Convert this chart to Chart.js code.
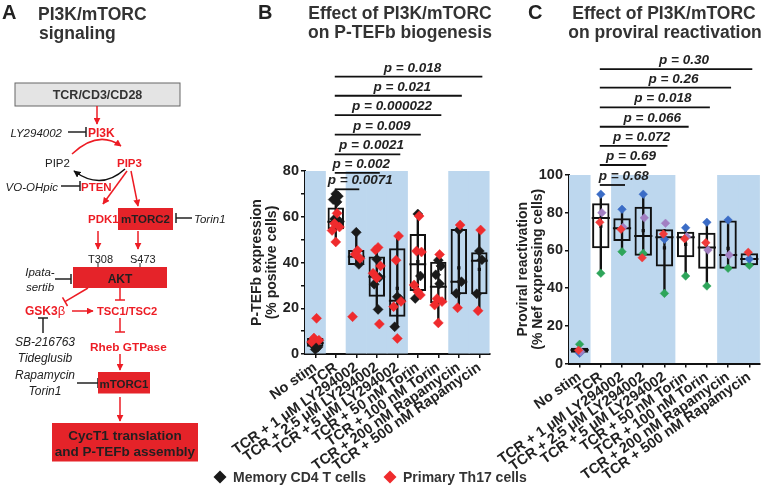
<!DOCTYPE html>
<html><head><meta charset="utf-8">
<script src="https://cdn.jsdelivr.net/npm/chart.js@4.4.1/dist/chart.umd.min.js"></script>
<style>
html,body{margin:0;padding:0;background:#fff;}
#wrap{position:relative;width:771px;height:486px;overflow:hidden;font-family:"Liberation Sans",Arial,sans-serif;}
#cB{position:absolute;left:200px;top:0;}
#cC{position:absolute;left:470px;top:0;}
#ov{position:absolute;left:0;top:0;}
</style></head>
<body><div id="wrap">
<canvas id="cB" width="300" height="486"></canvas>
<canvas id="cC" width="301" height="486"></canvas>
<svg id="ov" width="771" height="486" xmlns="http://www.w3.org/2000/svg" font-family="Liberation Sans, Arial, sans-serif">
<defs>
<marker id="ar" viewBox="0 0 10 10" refX="9" refY="5" markerWidth="7" markerHeight="7" markerUnits="userSpaceOnUse" orient="auto"><path d="M0,0 L10,5 L0,10 z" fill="#ed1c24"/></marker>
<marker id="ak" viewBox="0 0 10 10" refX="9" refY="5" markerWidth="7" markerHeight="7" markerUnits="userSpaceOnUse" orient="auto"><path d="M0,0 L10,5 L0,10 z" fill="#111"/></marker>
</defs>
<!-- Panel A -->
<text x="2" y="19" font-size="20" font-weight="bold" fill="#222">A</text>
<text x="38" y="19.5" font-size="17.5" font-weight="bold" fill="#333">PI3K/mTORC</text>
<text x="39" y="38.5" font-size="17.5" font-weight="bold" fill="#333">signaling</text>
<rect x="15" y="83" width="165" height="23" fill="#e4e4e4" stroke="#666" stroke-width="1"/>
<text x="97.5" y="99" font-size="12.5" font-weight="bold" fill="#333" text-anchor="middle">TCR/CD3/CD28</text>
<line x1="97" y1="106" x2="97" y2="124" stroke="#ed1c24" stroke-width="1.5" marker-end="url(#ar)"/>
<text x="62" y="137" font-size="11.5" font-style="italic" fill="#222" text-anchor="end">LY294002</text>
<line x1="68" y1="132" x2="86" y2="132" stroke="#222" stroke-width="1.5"/>
<line x1="86" y1="127" x2="86" y2="137" stroke="#222" stroke-width="1.5"/>
<text x="88" y="137" font-size="12" font-weight="bold" fill="#ed1c24">PI3K</text>
<path d="M72,154 Q98,129.5 121,146" fill="none" stroke="#ed1c24" stroke-width="1.5" marker-end="url(#ar)"/>
<text x="45" y="167" font-size="11.5" fill="#222">PIP2</text>
<text x="117" y="167" font-size="11.5" font-weight="bold" fill="#ed1c24">PIP3</text>
<path d="M125,169 Q101,191 74,171" fill="none" stroke="#111" stroke-width="1.5" marker-end="url(#ak)"/>
<text x="58" y="191" font-size="11.5" font-style="italic" fill="#222" text-anchor="end">VO-OHpic</text>
<line x1="61" y1="186" x2="80" y2="186" stroke="#222" stroke-width="1.5"/>
<line x1="80" y1="181" x2="80" y2="191" stroke="#222" stroke-width="1.5"/>
<text x="81" y="191" font-size="11.5" font-weight="bold" fill="#ed1c24">PTEN</text>
<line x1="127" y1="171" x2="103" y2="204" stroke="#ed1c24" stroke-width="1.5" marker-end="url(#ar)"/>
<line x1="131" y1="171" x2="138" y2="206" stroke="#ed1c24" stroke-width="1.5" marker-end="url(#ar)"/>
<text x="88" y="223" font-size="11.5" font-weight="bold" fill="#ed1c24">PDK1</text>
<rect x="118" y="208" width="55" height="22" fill="#e52329"/>
<text x="145.5" y="223" font-size="11.5" font-weight="bold" fill="#231f20" text-anchor="middle">mTORC2</text>
<line x1="176" y1="213" x2="176" y2="223" stroke="#222" stroke-width="1.5"/>
<line x1="176" y1="218" x2="192" y2="218" stroke="#222" stroke-width="1.5"/>
<text x="194" y="223" font-size="11.5" font-style="italic" fill="#222">Torin1</text>
<line x1="98" y1="231" x2="98" y2="249" stroke="#ed1c24" stroke-width="1.5" marker-end="url(#ar)"/>
<line x1="138" y1="231" x2="138" y2="249" stroke="#ed1c24" stroke-width="1.5" marker-end="url(#ar)"/>
<text x="88" y="263" font-size="11" fill="#222">T308</text>
<text x="130" y="263" font-size="11" fill="#222">S473</text>
<line x1="98" y1="263" x2="98" y2="268" stroke="#222" stroke-width="1"/>
<line x1="140" y1="263" x2="140" y2="268" stroke="#222" stroke-width="1"/>
<rect x="73" y="267" width="94" height="21" fill="#e52329"/>
<text x="120" y="282.5" font-size="12" font-weight="bold" fill="#231f20" text-anchor="middle">AKT</text>
<text x="40" y="276" font-size="11.5" font-style="italic" fill="#222" text-anchor="middle">Ipata-</text>
<text x="40" y="291" font-size="11.5" font-style="italic" fill="#222" text-anchor="middle">sertib</text>
<line x1="55" y1="279" x2="71" y2="279" stroke="#222" stroke-width="1.5"/>
<line x1="71" y1="274" x2="71" y2="284" stroke="#222" stroke-width="1.5"/>
<line x1="88" y1="288" x2="65" y2="301.7" stroke="#ed1c24" stroke-width="1.5"/>
<line x1="62.5" y1="297.4" x2="67.5" y2="306" stroke="#ed1c24" stroke-width="1.5"/>
<line x1="120" y1="288" x2="120" y2="300" stroke="#ed1c24" stroke-width="1.5"/>
<line x1="115" y1="300" x2="125" y2="300" stroke="#ed1c24" stroke-width="1.5"/>
<text x="25" y="315" font-size="12" font-weight="bold" fill="#ed1c24">GSK3<tspan font-weight="normal" font-size="13">β</tspan></text>
<line x1="72" y1="311" x2="93" y2="311" stroke="#ed1c24" stroke-width="1.5" marker-end="url(#ar)"/>
<text x="97" y="315" font-size="11.2" font-weight="bold" fill="#ed1c24">TSC1/TSC2</text>
<line x1="120" y1="318" x2="120" y2="332" stroke="#ed1c24" stroke-width="1.5"/>
<line x1="115" y1="332" x2="125" y2="332" stroke="#ed1c24" stroke-width="1.5"/>
<text x="90" y="351" font-size="11.8" font-weight="bold" fill="#ed1c24">Rheb GTPase</text>
<line x1="120" y1="354" x2="120" y2="370" stroke="#ed1c24" stroke-width="1.5" marker-end="url(#ar)"/>
<line x1="38" y1="318" x2="48" y2="318" stroke="#222" stroke-width="1.5"/>
<line x1="43" y1="318" x2="43" y2="333" stroke="#222" stroke-width="1.5"/>
<text x="45" y="346" font-size="12" font-style="italic" fill="#222" text-anchor="middle">SB-216763</text>
<text x="45" y="362" font-size="12" font-style="italic" fill="#222" text-anchor="middle">Tideglusib</text>
<text x="45" y="379" font-size="12" font-style="italic" fill="#222" text-anchor="middle">Rapamycin</text>
<text x="45" y="395" font-size="12" font-style="italic" fill="#222" text-anchor="middle">Torin1</text>
<line x1="77" y1="383" x2="98" y2="383" stroke="#222" stroke-width="1.5"/>
<line x1="98" y1="378" x2="98" y2="388" stroke="#222" stroke-width="1.5"/>
<rect x="98" y="372" width="52" height="21.5" fill="#e52329"/>
<text x="124" y="387.5" font-size="11.5" font-weight="bold" fill="#231f20" text-anchor="middle">mTORC1</text>
<line x1="120" y1="397" x2="120" y2="421" stroke="#ed1c24" stroke-width="1.5" marker-end="url(#ar)"/>
<rect x="52" y="423" width="146" height="38.5" fill="#e52329"/>
<text x="125" y="440" font-size="13.5" font-weight="bold" fill="#231f20" text-anchor="middle">CycT1 translation</text>
<text x="125" y="456" font-size="13.5" font-weight="bold" fill="#231f20" text-anchor="middle">and P-TEFb assembly</text>
<!-- Panel B / C titles -->
<text x="258" y="18.5" font-size="20" font-weight="bold" fill="#222">B</text>
<text x="400" y="18.5" font-size="17.5" font-weight="bold" fill="#333" text-anchor="middle">Effect of PI3K/mTORC</text>
<text x="400" y="37.5" font-size="17.5" font-weight="bold" fill="#333" text-anchor="middle">on P-TEFb biogenesis</text>
<text x="528" y="18.5" font-size="20" font-weight="bold" fill="#222">C</text>
<text x="664" y="18.5" font-size="17.5" font-weight="bold" fill="#333" text-anchor="middle">Effect of PI3K/mTORC</text>
<text x="665" y="37.5" font-size="17.5" font-weight="bold" fill="#333" text-anchor="middle">on proviral reactivation</text>
<!-- Legend -->
<path d="M220,470.5 L226.5,477 L220,483.5 L213.5,477 z" fill="#1a1a1a"/>
<text x="233" y="482" font-size="14" font-weight="bold" fill="#333">Memory CD4 T cells</text>
<path d="M390,470.5 L396.5,477 L390,483.5 L383.5,477 z" fill="#ef2b2d"/>
<text x="403" y="482" font-size="14" font-weight="bold" fill="#333">Primary Th17 cells</text>
</svg>
</div>
<script>
// ---------- data ----------
const categories = ["No stim","TCR","TCR + 1 μM LY294002","TCR + 2.5 μM LY294002","TCR + 5 μM LY294002","TCR + 50 nM Torin","TCR + 100 nM Torin","TCR + 200 nM Rapamycin","TCR + 500 nM Rapamycin"];
const shadedGroups = [true,false,true,true,true,false,false,true,true];

// Panel B: P-TEFb expression (% positive cells)
const bMemoryCD4 = [[2.0,3.0,4.0],[70.0,69.0,67.5,66.5,59.0,58.0],[53.2,39.2],[41.4,33.5,30.5,19.5],[25.0,24.0,11.9],[61.2,34.1,24.3],[41.0,38.5,34.6,30.7],[54.2,31.6,26.5],[45.0,41.2,26.3]];
const bTh17 = [[15.6,7.0,6.0,5.3],[61.5,57.0,55.5,54.0,49.0],[45.3,43.6,41.8,16.3],[46.6,45.5,38.5,35.3,33.2,13.1],[51.6,41.0,23.0,20.7,6.8],[60.3,45.0,44.6,30.2,27.2,25.8],[43.5,24.2,22.9,21.4,13.6],[56.4,20.2],[54.2,18.9]];
const bQ1 = [3.2,54.5,38.9,25.0,16.3,27.5,22.2,26.1,26.1];
const bMedian = [4.8,57.8,42.5,33.8,23.3,39.2,29.4,31.6,40.8];
const bQ3 = [7.0,64.0,45.5,42.6,46.2,52.5,40.3,54.6,44.5];
const bWhiskerLow = [3.2,49.0,38.9,19.5,11.9,24.3,14.1,20.2,18.9];
const bWhiskerHigh = [7.0,70.0,53.5,46.6,51.6,60.8,43.3,54.6,54.2];
const bMean = [null,null,null,null,28.7,40.4,30.2,37.7,37.0];
const bPValues = ["0.0071","0.002","0.0021","0.009","0.000022","0.021","0.018"];

// Panel C: proviral reactivation (% Nef expressing cells), one value per donor
const cDonorBlue = [5.4,89.8,81.8,89.8,65.9,72.0,74.9,76.1,55.4];
const cDonorPurple = [6.3,80.0,72.3,77.3,74.4,67.3,60.2,57.6,null];
const cDonorRed = [7.0,74.9,71.2,56.1,68.7,66.2,64.1,null,59.0];
const cDonorGreen = [10.2,47.9,59.3,58.4,37.2,46.4,41.1,50.5,52.1];
const cQ1 = [5.7,61.1,65.0,57.2,51.4,56.3,50.3,50.3,52.1];
const cMedian = [7.2,77.2,71.7,67.6,67.0,67.0,61.6,57.6,55.4];
const cQ3 = [8.4,85.0,77.0,83.2,71.2,69.9,69.4,75.8,58.5];
const cWhiskerLow = [5.7,47.9,59.3,57.2,37.2,46.4,41.1,50.3,52.1];
const cWhiskerHigh = [8.4,89.8,81.8,89.8,71.2,72.0,74.9,75.8,58.5];
const cMean = [null,72.9,null,70.5,61.4,63.2,60.1,61.1,null];
const cPValues = ["0.68","0.69","0.072","0.066","0.018","0.26","0.30"];

// ---------- rendering ----------
Chart.defaults.font.family = '"Liberation Sans", Arial, sans-serif';
const FONT = '"Liberation Sans", Arial, sans-serif';
const jitterPattern = [0, 0.14, -0.14, 0.07, -0.07, 0.2, -0.2];

function groupedPoints(groups, shift) {
  const out = [];
  groups.forEach((vals, i) => vals.forEach((v, k) => out.push({x: i + jitterPattern[(k + shift) % jitterPattern.length] * 0.9, y: v})));
  return out;
}
function flatPoints(vals, dx) {
  const out = [];
  vals.forEach((v, i) => { if (v !== null) out.push({x: i + dx, y: v}); });
  return out;
}

const bracketPlugin = {
  id: 'brackets',
  afterDatasetsDraw(chart, args, o) {
    if (!o || !o.pValues) return;
    const {ctx} = chart; const xs = chart.scales.x, ys = chart.scales.y;
    ctx.save();
    ctx.font = 'italic bold 13.5px ' + FONT;
    ctx.fillStyle = '#222'; ctx.strokeStyle = '#111'; ctx.lineWidth = 1.8;
    o.pValues.forEach((p, k) => {
      const x0 = xs.getPixelForValue(o.from) - 1;
      const x1 = xs.getPixelForValue(o.from + 1 + k) + 3;
      const yy = ys.getPixelForValue(o.levels[k]);
      ctx.beginPath(); ctx.moveTo(x0, yy); ctx.lineTo(x1, yy); ctx.stroke();
      const t = 'p = ' + p;
      const w = ctx.measureText(t).width;
      let left = (x0 + x1) / 2 - w / 2 + o.dx;
      if (left < x0 - o.clamp) left = x0 - o.clamp;
      ctx.textAlign = 'left'; ctx.textBaseline = 'alphabetic';
      ctx.fillText(t, left, yy - 5);
    });
    ctx.restore();
  }
};

function makeChart(id, s) {
  const n = categories.length;
  const datasets = [
    {type:'bar', data: shadedGroups.map(g => g ? s.yMax : null), backgroundColor:'#bdd7ee', barPercentage:1, categoryPercentage:1, grouped:false, order:10},
    {type:'bar', data: s.wl.map((l, i) => [l, s.wh[i]]), backgroundColor:'#111', barThickness:1.7, grouped:false, order:9},
    {type:'bar', data: s.q1.map((q, i) => [q, s.q3[i]]), backgroundColor:'rgba(0,0,0,0)', borderColor:'#111', borderWidth:2, borderSkipped:false, barPercentage:s.boxFrac, categoryPercentage:1, grouped:false, order:8},
    {type:'line', data: s.median, showLine:false, pointStyle:'line', pointRadius:s.medR, pointBorderColor:'#111', pointBorderWidth:2, order:7},
    {type:'line', data: s.mean, showLine:false, pointStyle:'rect', pointRadius:2.3, pointBackgroundColor:'#111', pointBorderWidth:0, order:6}
  ];
  s.points.forEach((p, k) => datasets.push({type:'scatter', xAxisID:'xp', data:p.data, pointStyle:'rectRot', pointRadius:s.ptR, pointBackgroundColor:p.color, pointBorderColor:p.color, pointBorderWidth:0.5, order:5 - k}));
  return new Chart(document.getElementById(id), {
    data: {labels: categories, datasets},
    options: {
      responsive:false, animation:false, devicePixelRatio:1,
      layout:{padding:{top:s.padTop, right:s.padRight, bottom:0, left:0}},
      plugins:{legend:{display:false}, tooltip:{enabled:false}, brackets:{pValues:s.pValues, from:1, levels:s.levels, dx:s.textDx, clamp:s.clamp}},
      scales:{
        x:{type:'category', offset:true,
           grid:{display:true, offset:false, drawOnChartArea:false, drawTicks:true, tickLength:4, color:'#111', lineWidth:1.5},
           border:{display:true, color:'#111', width:2},
           ticks:{autoSkip:false, maxRotation:35, minRotation:35, padding:1, color:'#222', font:{size:14.5, weight:'bold'}},
           afterFit(sc){ sc.height = s.xH; }},
        xp:{type:'linear', min:-0.5, max:n - 0.5, display:false},
        y:{type:'linear', min:0, max:s.yMax,
           grid:{display:true, drawOnChartArea:false, drawTicks:true, tickLength:4, color:'#111', lineWidth:1.5},
           border:{display:true, color:'#111', width:2},
           ticks:{stepSize:10, padding:2, color:'#222', font:{size:14.5, weight:'bold'}, callback:v => (v % 20 === 0 ? v : '')},
           title:{display:true, text:s.yTitle, color:'#222', font:{size:14, weight:'bold', lineHeight:1.05}, padding:{top:s.titlePad, bottom:0}},
           afterFit(sc){ sc.width = s.yW; }}
      }
    },
    plugins:[bracketPlugin]
  });
}

makeChart('cB', {
  yMax:80, padTop:171, padRight:7, xH:132, yW:105, titlePad:50, boxFrac:0.8, medR:8.4, ptR:5,
  q1:bQ1, q3:bQ3, median:bMedian, mean:bMean, wl:bWhiskerLow, wh:bWhiskerHigh,
  yTitle:['P-TEFb expression','(% positive cells)'],
  pValues:bPValues, levels:[72, 79.2, 87.3, 95.9, 104.4, 112.9, 121.3], textDx:4, clamp:7,
  points:[{data:groupedPoints(bMemoryCD4, 0), color:'#1a1a1a'}, {data:groupedPoints(bTh17, 3), color:'#ef2b2d'}]
});

makeChart('cC', {
  yMax:100, padTop:175, padRight:1, xH:122.5, yW:99, titlePad:46, boxFrac:0.82, medR:9.1, ptR:4.3,
  q1:cQ1, q3:cQ3, median:cMedian, mean:cMean, wl:cWhiskerLow, wh:cWhiskerHigh,
  yTitle:['Proviral reactivation','(% Nef expressing cells)'],
  pValues:cPValues, levels:[94.7, 105.3, 115.5, 125.6, 135.9, 146.3, 156.2], textDx:8, clamp:1,
  points:[{data:flatPoints(cDonorGreen, 0), color:'#2ea55a'}, {data:flatPoints(cDonorBlue, 0), color:'#3b6cc6'}, {data:flatPoints(cDonorPurple, 0.05), color:'#a27fc2'}, {data:flatPoints(cDonorRed, -0.05), color:'#f03a3a'}]
});
</script>
</body></html>
